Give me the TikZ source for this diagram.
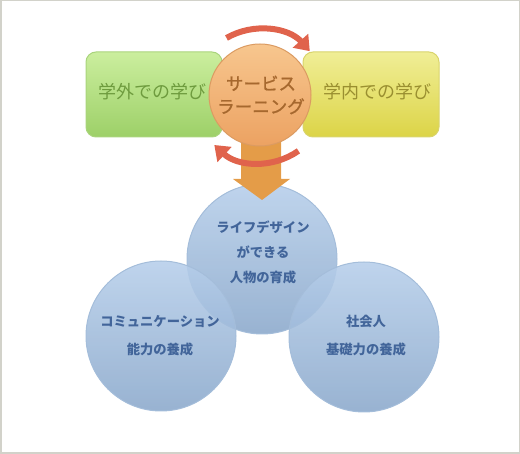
\documentclass[tikz,border=0pt]{standalone}
\usepackage{fontspec}
\newfontfamily\jp{Noto Sans CJK JP}
\newfontfamily\jpm[FakeBold=1.2]{Noto Sans CJK JP}
\usetikzlibrary{arrows.meta}
\definecolor{frame}{HTML}{D2D2CA}
\definecolor{gtop}{HTML}{CBEE9E}
\definecolor{gbot}{HTML}{9DD068}
\definecolor{gline}{HTML}{A9D47C}
\definecolor{gtext}{HTML}{6E9B3E}
\definecolor{ytop}{HTML}{F0EE96}
\definecolor{ybot}{HTML}{DCD447}
\definecolor{yline}{HTML}{D9D46C}
\definecolor{ytext}{HTML}{9A8F30}
\definecolor{otop}{HTML}{F7C68E}
\definecolor{obot}{HTML}{ECA262}
\definecolor{oline}{HTML}{DB9B62}
\definecolor{otext}{HTML}{A6682E}
\definecolor{btop}{HTML}{B6CEEA}
\definecolor{bbot}{HTML}{8AA8CB}
\definecolor{bline}{HTML}{A4BDDA}
\definecolor{btext}{HTML}{42659A}
\definecolor{bigarrow}{HTML}{E49C48}
\definecolor{redarc}{HTML}{E0634C}
\tikzset{
  bluecircle/.style={circle, draw=bline, line width=1pt, top color=btop, bottom color=bbot, fill opacity=0.88, minimum size=150pt, inner sep=0pt},
  bluetext/.style={text=btext, font=\jp\bfseries\fontsize{13.3}{25}\selectfont, align=center, inner sep=0pt},
  boxstyle/.style={rounded corners=10pt, line width=1pt, minimum width=136pt, minimum height=85pt, inner sep=0pt},
  boxtext/.style={font=\jp\fontsize{18}{20}\selectfont, inner sep=0pt},
  rarc/.style={draw=redarc, line width=6pt, -{Triangle[length=14pt,width=20pt]}},
}
\begin{document}
\begin{tikzpicture}[x=1pt,y=-1pt]
\useasboundingbox (0,0) rectangle (520,454);
\draw[frame, line width=1.5pt] (0.75,0.75) rectangle (519.25,453.25);
% blue circles
\node[bluecircle] (life) at (262,259) {};
\node[bluecircle] (comm) at (161,336) {};
\node[bluecircle] (soc) at (364,337) {};
\node[bluetext] (lifet) at (263,252.5) {ライフデザイン\\ができる\\人物の育成};
\node[bluetext, font=\jp\bfseries\fontsize{13.3}{28}\selectfont] (commt) at (160,336) {コミュニケーション\\能力の養成};
\node[bluetext, font=\jp\bfseries\fontsize{13.3}{28}\selectfont] (soct) at (366,336) {社会人\\基礎力の養成};
% boxes
\node[boxstyle, draw=gline, top color=gtop, bottom color=gbot] (outside) at (154,94.5) {};
\node[boxstyle, draw=yline, top color=ytop, bottom color=ybot] (inside) at (371,94.5) {};
\node[boxtext, text=gtext] (outsidet) at (152,92) {学外での学び};
\node[boxtext, text=ytext] (insidet) at (377,92) {学内での学び};
% big arrow
\fill[bigarrow] (241,140) -- (281,140) -- (281,179) -- (290,179) -- (262,200) -- (233,179) -- (241,179) -- cycle;
% orange circle
\node[circle, draw=oline, line width=1pt, top color=otop, bottom color=obot, minimum size=102pt, inner sep=0pt] (sl) at (260,95) {};
\node[font=\jpm\fontsize{17.5}{23}\selectfont, text=otext, align=center, inner sep=0pt] (slt) at (261,95) {サービス\\ラーニング};
% red arcs
\coordinate (ac) at (260,96);
\draw[rarc] (ac) ++(-120:67) arc[start angle=-120, end angle=-42, radius=67];
\draw[rarc] (ac) ++(55:67) arc[start angle=55, end angle=133, radius=67];
\end{tikzpicture}
\end{document}
